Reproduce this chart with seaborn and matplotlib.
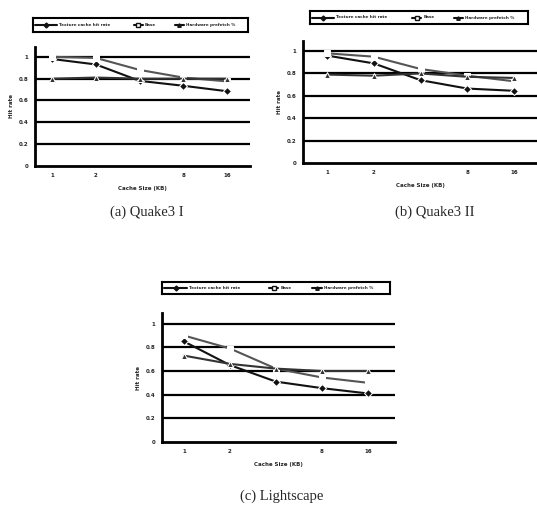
import numpy as np
import pandas as pd
import matplotlib
matplotlib.use("Agg")
import matplotlib.pyplot as plt
import seaborn as sns

# cache sizes (log scale on x)
cache_kb = [1, 2, 4, 8, 16]
tick_pos = [1, 2, 8, 16]
tick_labels = ["1", "2", "8", "16"]
y_ticks = [0, 0.2, 0.4, 0.6, 0.8, 1.0]
y_labels = ["0", "0.2", "0.4", "0.6", "0.8", "1"]

series_names = ["Texture cache hit rate", "Base", "Hardware prefetch %"]

# (a) Quake3 I
q1_hit = [0.98, 0.93, 0.78, 0.735, 0.685]
q1_base = [1.0, 0.99, 0.88, 0.81, 0.775]
q1_pref = [0.80, 0.81, 0.80, 0.80, 0.80]
# (b) Quake3 II
q2_hit = [0.96, 0.89, 0.74, 0.665, 0.645]
q2_base = [0.98, 0.95, 0.84, 0.78, 0.73]
q2_pref = [0.79, 0.78, 0.80, 0.77, 0.76]
# (c) Lightscape
ls_hit = [0.85, 0.65, 0.51, 0.455, 0.41]
ls_base = [0.90, 0.79, 0.62, 0.545, 0.50]
ls_pref = [0.73, 0.66, 0.62, 0.60, 0.60]

captions = ["(a) Quake3 I", "(b) Quake3 II", "(c) Lightscape"]

sns.set_style("white")
plt.rcParams['font.family'] = ['DejaVu Sans']


def make_df(hit, base, pref):
    rows = []
    for name, vals in zip(series_names, [hit, base, pref]):
        for x, v in zip(cache_kb, vals):
            rows.append({"size": x, "rate": v, "series": name})
    return pd.DataFrame(rows)


def draw(ax, df, xlim):
    palette = {series_names[0]: "#111111", series_names[1]: "#555555", series_names[2]: "#333333"}
    markers = {series_names[0]: "D", series_names[1]: "s", series_names[2]: "^"}
    for yt in y_ticks[1:]:
        ax.axhline(yt, color="black", lw=1.6, zorder=1)
    sns.lineplot(data=df, x="size", y="rate", hue="series", style="series",
                 palette=palette, markers=markers, dashes=False, lw=1.5,
                 markersize=4, ax=ax, legend=False, zorder=3)
    for line, fc in zip(ax.lines[-3:], ["#111111", "white", "#333333"]):
        line.set_markerfacecolor(fc)
    ax.set_xscale("log", base=2)
    ax.set_xlim(*xlim)
    ax.set_ylim(0, 1.09)
    ax.set_xticks(tick_pos)
    ax.set_xticklabels(tick_labels, fontsize=4, fontweight="bold")
    ax.minorticks_off()
    ax.set_yticks(y_ticks)
    ax.set_yticklabels(y_labels, fontsize=4, fontweight="bold")
    ax.tick_params(length=0, pad=5)
    for s in ["top", "right"]:
        ax.spines[s].set_visible(False)
    for s in ["left", "bottom"]:
        ax.spines[s].set_linewidth(2)
        ax.spines[s].set_color("black")
    ax.set_xlabel("Cache Size (KB)", fontsize=4, fontweight="bold", labelpad=6)
    ax.set_ylabel("Hit rate", fontsize=4, fontweight="bold", labelpad=3)


def draw_legend(fig, rect):
    lax = fig.add_axes(rect)
    lax.set_xticks([])
    lax.set_yticks([])
    for s in lax.spines.values():
        s.set_linewidth(1.5)
        s.set_color("black")
    lax.set_xlim(0, 1)
    lax.set_ylim(0, 1)
    pos = [0.01, 0.47, 0.66]
    seg = [0.10, 0.04, 0.04]
    mk = ["D", "s", "^"]
    fcs = ["#111111", "white", "#333333"]
    for p, w, name, m, fc in zip(pos, seg, series_names, mk, fcs):
        lax.plot([p, p + w / 2, p + w], [0.5, 0.5, 0.5], color="#111111", lw=1.5,
                 marker=m, markevery=[1], markersize=2.5, markerfacecolor=fc)
        lax.text(p + w + 0.01, 0.5, name, fontsize=3, fontweight="bold", va="center")


fig = plt.figure(figsize=(5.37, 5.18), dpi=100)
W, H = 537.0, 518.0


def rect(x0, y0, x1, y1):
    return [x0 / W, 1 - y1 / H, (x1 - x0) / W, (y1 - y0) / H]


datasets = [make_df(q1_hit, q1_base, q1_pref),
            make_df(q2_hit, q2_base, q2_pref),
            make_df(ls_hit, ls_base, ls_pref)]
axes_rects = [rect(35, 47, 250, 166), rect(303, 41, 537, 163), rect(162, 313, 395, 442)]
xlims = [(0.76, 23.1), (0.70, 22.5), (0.72, 24.0)]
legend_rects = [rect(33, 18, 248, 32), rect(310, 11, 528, 24), rect(162, 282, 390, 294)]
cap_pos = [(147, 212), (435, 212), (282, 496)]

for df, ar, xl, lr, cp, cap in zip(datasets, axes_rects, xlims, legend_rects, cap_pos, captions):
    ax = fig.add_axes(ar)
    draw(ax, df, xl)
    draw_legend(fig, lr)
    fig.text(cp[0] / W, 1 - cp[1] / H, cap, fontsize=10.5,
             family=["Liberation Serif", "DejaVu Serif"], ha="center", va="center")

fig.savefig("out.png", dpi=100)
